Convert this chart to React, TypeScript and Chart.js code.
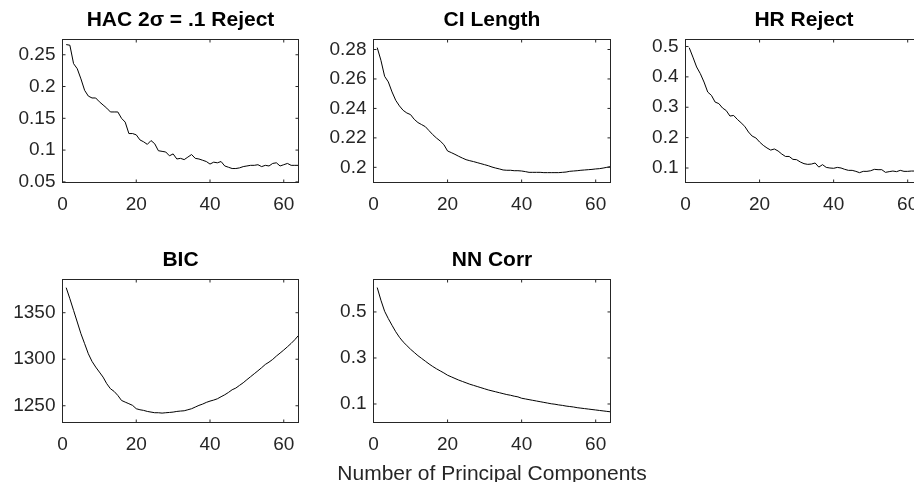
import React, { useEffect, useRef } from "react";
import { Chart, registerables } from "chart.js";

Chart.register(...registerables);

// ---------- data ----------
const components = [
  1, 2, 3, 4, 5, 6, 7, 8, 9, 10, 11, 12, 13, 14, 15, 16, 17, 18, 19, 20, 21, 22, 23, 24, 25, 26, 27, 28, 29, 30, 31, 32,
  33, 34, 35, 36, 37, 38, 39, 40, 41, 42, 43, 44, 45, 46, 47, 48, 49, 50, 51, 52, 53, 54, 55, 56, 57, 58, 59, 60, 61, 62, 63, 64,
];

const hacReject = [
  0.266, 0.265, 0.236, 0.228, 0.212, 0.194, 0.185, 0.182, 0.182, 0.176,
  0.171, 0.166, 0.16, 0.16, 0.16, 0.15, 0.144, 0.126, 0.126, 0.124,
  0.116, 0.113, 0.109, 0.115, 0.11, 0.099, 0.098, 0.097, 0.091, 0.094,
  0.086, 0.087, 0.085, 0.089, 0.093, 0.087, 0.086, 0.084, 0.082, 0.078,
  0.081, 0.08, 0.082, 0.075, 0.073, 0.071, 0.071, 0.072, 0.074, 0.075,
  0.076, 0.076, 0.077, 0.074, 0.076, 0.075, 0.079, 0.08, 0.075, 0.077,
  0.079, 0.076, 0.076, 0.076,
];

const ciLength = [
  0.2813, 0.2727, 0.2618, 0.258, 0.2512, 0.2455, 0.2417, 0.2387, 0.2369, 0.2358,
  0.2326, 0.2304, 0.229, 0.2276, 0.2249, 0.2222, 0.2199, 0.2179, 0.2154, 0.2111,
  0.21, 0.2088, 0.2075, 0.2063, 0.2052, 0.2045, 0.2039, 0.2032, 0.2025, 0.2018,
  0.2011, 0.2002, 0.1995, 0.1989, 0.1982, 0.198, 0.198, 0.1977, 0.1977, 0.1975,
  0.1971, 0.1966, 0.1966, 0.1966, 0.1966, 0.1964, 0.1964, 0.1964, 0.1964, 0.1964,
  0.1966, 0.1968, 0.1973, 0.1975, 0.1977, 0.198, 0.1982, 0.1984, 0.1986, 0.1989,
  0.1991, 0.1995, 0.2, 0.2005,
];

const hrReject = [
  0.496, 0.465, 0.4325, 0.4106, 0.383, 0.35, 0.339, 0.317, 0.312, 0.2975,
  0.289, 0.271, 0.273, 0.26, 0.249, 0.237, 0.2185, 0.205, 0.199, 0.1856,
  0.1746, 0.166, 0.159, 0.1626, 0.156, 0.146, 0.138, 0.138, 0.1285, 0.1274,
  0.1198, 0.1143, 0.112, 0.113, 0.1165, 0.103, 0.111, 0.102, 0.1, 0.099,
  0.102, 0.1, 0.0956, 0.0923, 0.0923, 0.089, 0.0846, 0.089, 0.089, 0.091,
  0.0956, 0.0945, 0.0945, 0.0857, 0.088, 0.09, 0.088, 0.0923, 0.089, 0.089,
  0.09, 0.09, 0.089, 0.089,
];

const bic = [
  1376.9, 1365, 1352.5, 1340, 1327.4, 1316.7, 1305.9, 1297.7, 1291.6, 1286.2,
  1280.8, 1273.7, 1268.3, 1265.4, 1261.1, 1255.7, 1253.9, 1252.2, 1250.4, 1246.8,
  1245.7, 1245, 1243.9, 1243.2, 1242.5, 1242.5, 1242.1, 1242.5, 1242.8, 1243.2,
  1243.9, 1244.3, 1244.6, 1245.7, 1246.8, 1248.6, 1250.4, 1251.8, 1253.6, 1255,
  1256.1, 1257.5, 1259.7, 1261.8, 1264.3, 1267.2, 1269, 1271.9, 1274.7, 1278,
  1281.2, 1284.4, 1287.6, 1290.9, 1294.4, 1296.9, 1299.8, 1303.4, 1306.6, 1309.9,
  1313.4, 1317, 1321, 1325.6,
];

const nnCorr = [
  0.606, 0.551, 0.503, 0.471, 0.442, 0.414, 0.39, 0.37, 0.354, 0.338,
  0.324, 0.31, 0.298, 0.286, 0.274, 0.263, 0.253, 0.244, 0.235, 0.225,
  0.218, 0.211, 0.204, 0.198, 0.192, 0.186, 0.181, 0.176, 0.171, 0.166,
  0.161, 0.157, 0.153, 0.149, 0.145, 0.141, 0.138, 0.134, 0.131, 0.125,
  0.122, 0.119, 0.116, 0.113, 0.11, 0.107, 0.104, 0.101, 0.099, 0.096,
  0.094, 0.091, 0.089, 0.087, 0.084, 0.082, 0.08, 0.078, 0.076, 0.074,
  0.072, 0.07, 0.068, 0.066,
];

const xTicks = [0, 20, 40, 60];
const hacTicks = [0.05, 0.1, 0.15, 0.2, 0.25];
const ciTicks = [0.2, 0.22, 0.24, 0.26, 0.28];
const hrTicks = [0.1, 0.2, 0.3, 0.4, 0.5];
const bicTicks = [1250, 1300, 1350];
const nnTicks = [0.1, 0.3, 0.5];

const titles = ["HAC 2σ = .1 Reject", "CI Length", "HR Reject", "BIC", "NN Corr"];
const xAxisLabel = "Number of Principal Components";

// ---------- layout / style ----------
const FONT = "'Liberation Sans', Arial, Helvetica, sans-serif";
const AX_COLOR = "#262626";

type Panel = {
  title: string;
  values: number[];
  yTicks: number[];
  yMin: number;
  yMax: number;
  cx: number; cy: number; cw: number; ch: number; // canvas box (page px)
  L: number; T: number; R: number; B: number; // plot insets inside canvas
};

const panels: Panel[] = [
  { title: titles[0], values: hacReject, yTicks: hacTicks, yMin: 0.049, yMax: 0.274, cx: 0, cy: 0, cw: 310, ch: 240, L: 62.5, T: 39.5, R: 11.5, B: 57.5 },
  { title: titles[1], values: ciLength, yTicks: ciTicks, yMin: 0.1897, yMax: 0.2868, cx: 310, cy: 0, cw: 312, ch: 240, L: 63.5, T: 39.5, R: 11.5, B: 57.5 },
  { title: titles[2], values: hrReject, yTicks: hrTicks, yMin: 0.0523, yMax: 0.523, cx: 622, cy: 0, cw: 312, ch: 240, L: 63.5, T: 39.5, R: 11.5, B: 57.5 },
  { title: titles[3], values: bic, yTicks: bicTicks, yMin: 1232, yMax: 1385.7, cx: 0, cy: 240, cw: 310, ch: 244, L: 62.5, T: 39.5, R: 11.5, B: 61.5 },
  { title: titles[4], values: nnCorr, yTicks: nnTicks, yMin: 0.0196, yMax: 0.641, cx: 310, cy: 240, cw: 312, ch: 244, L: 63.5, T: 39.5, R: 11.5, B: 61.5 },
];

const boxPlugin = {
  id: "matlabBox",
  afterDatasetsDraw(chart: any) {
    const { ctx, chartArea } = chart;
    const { left, right, top, bottom } = chartArea;
    const xs = chart.scales.x;
    const ys = chart.scales.y;
    ctx.save();
    ctx.strokeStyle = AX_COLOR;
    ctx.lineWidth = 1;
    ctx.strokeRect(left, top, right - left, bottom - top);
    ctx.beginPath();
    const tl = 3;
    xs.ticks.forEach((t: any) => {
      const px = xs.getPixelForValue(t.value);
      ctx.moveTo(px, bottom);
      ctx.lineTo(px, bottom - tl);
      ctx.moveTo(px, top);
      ctx.lineTo(px, top + tl);
    });
    ys.ticks.forEach((t: any) => {
      const py = ys.getPixelForValue(t.value);
      ctx.moveTo(left, py);
      ctx.lineTo(left + tl, py);
      ctx.moveTo(right, py);
      ctx.lineTo(right - tl, py);
    });
    ctx.stroke();
    ctx.restore();
  },
};

function PanelChart({ p }: { p: Panel }) {
  const ref = useRef<HTMLCanvasElement | null>(null);
  useEffect(() => {
    if (!ref.current) return;
    const titleSize = 21;
    const padTop = 9.8;
    const chart = new Chart(ref.current, {
      type: "line",
      data: {
        datasets: [
          {
            data: components.map((c, i) => ({ x: c, y: p.values[i] })),
            borderColor: "#000000",
            borderWidth: 1,
            pointRadius: 0,
            tension: 0,
            fill: false,
          },
        ],
      },
      options: {
        animation: false,
        responsive: false,
        devicePixelRatio: 1,
        layout: { padding: { top: 0, left: 0, right: p.R, bottom: 0 } },
        plugins: {
          legend: { display: false },
          tooltip: { enabled: false },
          title: {
            display: true,
            text: p.title,
            fullSize: false,
            color: "#000000",
            font: { family: FONT, size: titleSize, weight: "bold", lineHeight: 1 },
            padding: { top: padTop, bottom: p.T - titleSize - padTop },
          },
        },
        scales: {
          x: {
            type: "linear",
            position: "bottom",
            min: 0,
            max: 64,
            grid: { display: false, drawTicks: false },
            border: { display: false },
            afterBuildTicks: (s: any) => {
              s.ticks = xTicks.map((v) => ({ value: v }));
            },
            afterFit: (s: any) => {
              s.height = p.B;
            },
            ticks: {
              color: AX_COLOR,
              font: { family: FONT, size: 19, lineHeight: 1 },
              padding: 13,
              maxRotation: 0,
              autoSkip: false,
              callback: (v: any) => String(v),
            },
          },
          y: {
            type: "linear",
            position: "left",
            min: p.yMin,
            max: p.yMax,
            grid: { display: false, drawTicks: false },
            border: { display: false },
            afterBuildTicks: (s: any) => {
              s.ticks = p.yTicks.map((v) => ({ value: v }));
            },
            afterFit: (s: any) => {
              s.width = p.L;
            },
            ticks: {
              color: AX_COLOR,
              font: { family: FONT, size: 19, lineHeight: 1 },
              padding: 7,
              autoSkip: false,
              callback: (v: any) => String(v),
            },
          },
        },
      },
      plugins: [boxPlugin],
    } as any);
    return () => chart.destroy();
  }, [p]);
  return (
    <canvas
      ref={ref}
      width={p.cw}
      height={p.ch}
      style={{ position: "absolute", left: p.cx, top: p.cy, width: p.cw, height: p.ch }}
    />
  );
}

export default function App() {
  return (
    <div
      style={{
        position: "fixed",
        left: 0,
        top: 0,
        width: 914,
        height: 482,
        overflow: "hidden",
        background: "#ffffff",
      }}
    >
      {panels.map((p, i) => (
        <PanelChart key={i} p={p} />
      ))}
      <div
        style={{
          position: "absolute",
          left: 0,
          width: 984,
          top: 462,
          height: 21,
          lineHeight: "21px",
          fontSize: 21,
          fontFamily: FONT,
          color: AX_COLOR,
          textAlign: "center",
          whiteSpace: "nowrap",
        }}
      >
        {xAxisLabel}
      </div>
    </div>
  );
}
